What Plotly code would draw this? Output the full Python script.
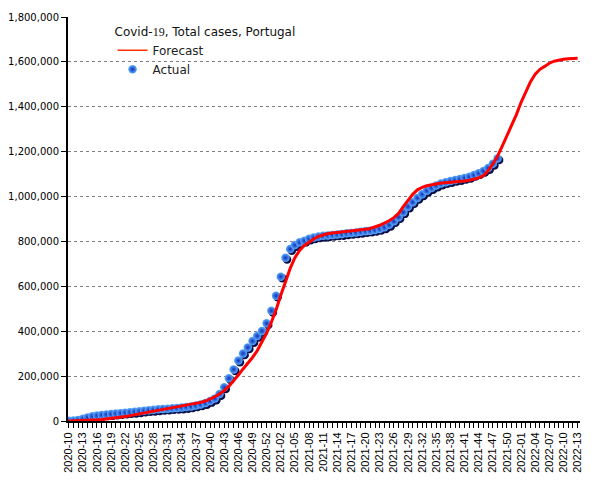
import plotly.graph_objects as go

# ISO weeks from 2020-10 to 2022-13
week_counts = {2020: 53, 2021: 52, 2022: 13}
weeks = []
for yr, n in week_counts.items():
    start = 10 if yr == 2020 else 1
    for w in range(start, n + 1):
        weeks.append(f"{yr}-{w:02d}")

# Actual cumulative cases (weekly), 2020-10 .. 2021-48
actual = [
    1000, 2000, 5000, 10000, 16000, 21000, 24000, 27000, 29000, 31000,
    33000, 35000, 37000, 39000, 41000, 43000, 46000, 48000, 50000, 52000,
    54000, 55000, 57000, 58000, 60000, 62000, 65000, 69000, 74000, 80000,
    89000, 100000, 120000, 150000, 190000, 230000, 269000, 301000, 328000, 356000,
    379000, 401000, 435000, 491000, 558000, 643000, 727000, 766000, 784000, 796000,
    803000, 812000, 818000, 822000, 825000, 827000, 829000, 831000, 833000, 836000,
    838000, 840000, 843000, 846000, 848000, 851000, 856000, 863000, 874000, 890000,
    908000, 930000, 955000, 975000, 994000, 1010000, 1026000, 1038000, 1049000, 1058000,
    1064000, 1069000, 1074000, 1078000, 1083000, 1088000, 1096000, 1104000, 1114000, 1127000,
    1146000, 1170000,
]

# Forecast cumulative cases (weekly), 2020-10 .. 2022-13
forecast = [
    0, 500, 1000, 2000, 3000, 4000, 5500, 7000, 9000, 11000,
    13000, 16000, 20000, 24000, 28000, 32000, 36000, 40000, 44000, 48000,
    52000, 55000, 58000, 62000, 65000, 69000, 73000, 77000, 83000, 89000,
    97000, 108000, 120000, 135000, 155000, 178000, 205000, 232000, 257000, 283000,
    313000, 350000, 392000, 440000, 495000, 560000, 620000, 680000, 728000, 760000,
    782000, 798000, 811000, 822000, 830000, 835000, 838000, 840000, 842000, 843000,
    845000, 848000, 851000, 854000, 858000, 864000, 872000, 882000, 892000, 906000,
    925000, 955000, 985000, 1010000, 1030000, 1041000, 1048000, 1053000, 1057000, 1060000,
    1062000, 1063000, 1064000, 1066000, 1069000, 1073000, 1078000, 1083000, 1093000, 1115000,
    1145000, 1180000, 1225000, 1270000, 1318000, 1365000, 1420000, 1470000, 1512000, 1545000,
    1567000, 1580000, 1594000, 1603000, 1609000, 1612000, 1614000, 1615000, 1616000,
]

y_ticks = [0, 200000, 400000, 600000, 800000, 1000000, 1200000, 1400000, 1600000, 1800000]
x_labels = [w if i % 3 == 0 else "" for i, w in enumerate(weeks)]

title_text = "Covid-<span style='font-family:\"Liberation Serif\"'>19</span>, Total cases, Portugal"

x_range = [-0.15, len(weeks) - 1 + 0.5]
y_range = [0, 1800000]
px_x = (x_range[1] - x_range[0]) / 512.0
px_y = (y_range[1] - y_range[0]) / 404.0
sh = 1.6

fig = go.Figure()

# invisible anchor trace so the main axes are drawn
fig.add_trace(go.Scatter(
    x=weeks, y=forecast, mode="lines", line=dict(width=0, color="rgba(0,0,0,0)"),
    showlegend=False, hoverinfo="skip",
))

# shadow of the actual dots (drawn on a shifted overlay axis)
fig.add_trace(go.Scatter(
    x=weeks[:len(actual)], y=actual, mode="markers", xaxis="x2", yaxis="y2",
    marker=dict(size=8.5, color="#0a0f4a", line=dict(width=0)),
    showlegend=False, hoverinfo="skip",
))

fig.add_trace(go.Scatter(
    x=weeks[:len(actual)], y=actual, mode="markers", name="Actual",
    xaxis="x3", yaxis="y3",
    marker=dict(size=8.5, color="#5cacff", line=dict(width=0),
                gradient=dict(type="radial", color="#1030b8")),
    legendrank=2,
))

fig.add_trace(go.Scatter(
    x=weeks, y=forecast, mode="lines", name="Forecast",
    xaxis="x3", yaxis="y3",
    line=dict(color="#ff0000", width=3),
    showlegend=False,
))

# legend entry for the forecast (thin line, as in the reference legend)
fig.add_trace(go.Scatter(
    x=[None], y=[None], mode="lines", name="Forecast",
    xaxis="x3", yaxis="y3",
    line=dict(color="#ff3300", width=1.5),
    legendrank=1,
))

cat = dict(type="category", categoryorder="array", categoryarray=weeks)

fig.update_layout(
    width=605, height=480,
    margin=dict(l=60, r=33, t=9, b=67),
    paper_bgcolor="white", plot_bgcolor="white",
    font=dict(family="DejaVu Sans", size=12, color="#222222"),
    showlegend=True,
    legend=dict(
        x=0.087, y=0.992, xanchor="left", yanchor="top",
        bgcolor="rgba(0,0,0,0)", borderwidth=0,
        font=dict(family="DejaVu Sans", size=12, color="#222222"),
        title=dict(text=title_text, font=dict(family="DejaVu Sans", size=12, color="#111111")),
        tracegroupgap=0,
    ),
    xaxis=dict(
        **cat,
        range=x_range, tickmode="array", tickvals=weeks, ticktext=x_labels,
        tickangle=-90, ticks="outside", ticklen=5, tickcolor="black", tickwidth=1,
        showline=True, linecolor="black", linewidth=2, showgrid=False, zeroline=False,
        tickfont=dict(family="Liberation Sans", size=11, color="black"),
        automargin=False,
    ),
    yaxis=dict(
        range=y_range, tickmode="array", tickvals=y_ticks, tickformat=",",
        ticks="outside", ticklen=5, tickcolor="black", tickwidth=1,
        showline=True, linecolor="black", linewidth=2,
        showgrid=True, gridcolor="#808080", griddash="dot", gridwidth=1,
        zeroline=False, automargin=False,
        tickfont=dict(family="DejaVu Sans", size=10, color="black"),
    ),
    xaxis2=dict(
        **cat, overlaying="x", range=[x_range[0] - sh * px_x, x_range[1] - sh * px_x],
        visible=False,
    ),
    yaxis2=dict(
        overlaying="y", range=[y_range[0] + sh * px_y, y_range[1] + sh * px_y],
        visible=False,
    ),
    xaxis3=dict(**cat, overlaying="x", range=x_range, visible=False),
    yaxis3=dict(overlaying="y", range=y_range, visible=False),
)

fig.write_html("out.html")
